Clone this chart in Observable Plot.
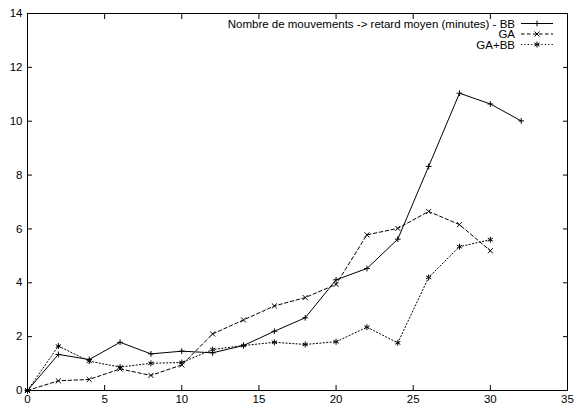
<!DOCTYPE html>
<html>
<head>
<meta charset="utf-8">
<script src="https://cdn.jsdelivr.net/npm/d3@7"></script>
<script src="https://cdn.jsdelivr.net/npm/@observablehq/plot@0.6"></script>
<style>
  html, body { margin: 0; padding: 0; background: #fff; }
  svg { display: block; }
</style>
</head>
<body>
<div id="chart"></div>
<script>
const xs = [0, 2, 4, 6, 8, 10, 12, 14, 16, 18, 20, 22, 24, 26, 28, 30, 32];
const bb = [0, 1.34, 1.15, 1.79, 1.36, 1.46, 1.40, 1.67, 2.20, 2.70, 4.11, 4.53, 5.62, 8.32, 11.04, 10.64, 10.01];
const ga = [0, 0.36, 0.41, 0.80, 0.56, 0.95, 2.10, 2.62, 3.14, 3.45, 3.94, 5.78, 6.02, 6.65, 6.16, 5.19];
const gabb = [0, 1.65, 1.09, 0.87, 1.01, 1.04, 1.52, 1.67, 1.79, 1.71, 1.81, 2.35, 1.77, 4.20, 5.34, 5.60];
const seriesNames = ["Nombre de mouvements -> retard moyen (minutes) - BB", "GA", "GA+BB"];
const xTicks = [0, 5, 10, 15, 20, 25, 30, 35];
const yTicks = [0, 2, 4, 6, 8, 10, 12, 14];

const mk = (vals) => vals.map((v, i) => ({x: xs[i], y: v}));
const dBB = mk(bb), dGA = mk(ga), dGB = mk(gabb);

const styles = [
  {data: dBB, dash: null, symbol: "plus", r: 2.0},
  {data: dGA, dash: "3.5,2.5", symbol: "times", r: 2.4},
  {data: dGB, dash: "1.2,2.2", symbol: "asterisk", r: 2.8}
];

const font = "Liberation Sans, Arial, Helvetica, sans-serif";
const fs = 11.5;

const plot = Plot.plot({
  width: 574,
  height: 406,
  marginLeft: 27,
  marginRight: 7,
  marginTop: 13,
  marginBottom: 16,
  style: {fontFamily: font, fontSize: fs + "px", background: "#fff", color: "#000"},
  x: {domain: [0, 35]},
  y: {domain: [0, 14]},
  marks: [
    Plot.frame({stroke: "#000", strokeWidth: 1}),
    Plot.axisX(xTicks, {anchor: "bottom", tickSize: -5, text: null, label: null, stroke: "#000"}),
    Plot.axisX(xTicks, {anchor: "top", tickSize: -5, text: null, label: null, stroke: "#000"}),
    Plot.axisX(xTicks, {anchor: "bottom", tickSize: 0, tickPadding: 4, label: null, fontSize: fs}),
    Plot.axisY(yTicks, {anchor: "left", tickSize: -5, text: null, label: null, stroke: "#000"}),
    Plot.axisY(yTicks, {anchor: "right", tickSize: -5, text: null, label: null, stroke: "#000"}),
    Plot.axisY(yTicks, {anchor: "left", tickSize: 0, tickPadding: 5, label: null, fontSize: fs}),
    ...styles.flatMap(s => [
      Plot.line(s.data, {x: "x", y: "y", stroke: "#000", strokeWidth: 1, strokeDasharray: s.dash}),
      Plot.dot(s.data, {x: "x", y: "y", symbol: s.symbol, stroke: "#000", strokeWidth: 1, r: s.r, fill: "none"})
    ])
  ]
});

// legend (gnuplot style, top-right inside the frame)
const svg = d3.select(plot);
const right = 574 - 7;
const rowY = [23.5, 34, 44.5];
const lg = svg.append("g").attr("font-family", font).attr("font-size", fs);
seriesNames.forEach((name, i) => {
  const y = rowY[i];
  lg.append("text").attr("x", right - 52).attr("y", y).attr("dy", "0.35em")
    .attr("text-anchor", "end").text(name);
  const line = lg.append("line").attr("x1", right - 46).attr("x2", right - 14)
    .attr("y1", y).attr("y2", y).attr("stroke", "#000");
  if (styles[i].dash) line.attr("stroke-dasharray", styles[i].dash);
  const sym = {plus: d3.symbolPlus, times: d3.symbolTimes, asterisk: d3.symbolAsterisk}[styles[i].symbol];
  lg.append("path").attr("transform", `translate(${right - 30},${y})`)
    .attr("d", d3.symbol(sym, styles[i].r * styles[i].r * Math.PI)())
    .attr("fill", "none").attr("stroke", "#000");
});

document.getElementById("chart").appendChild(plot);
</script>
</body>
</html>
